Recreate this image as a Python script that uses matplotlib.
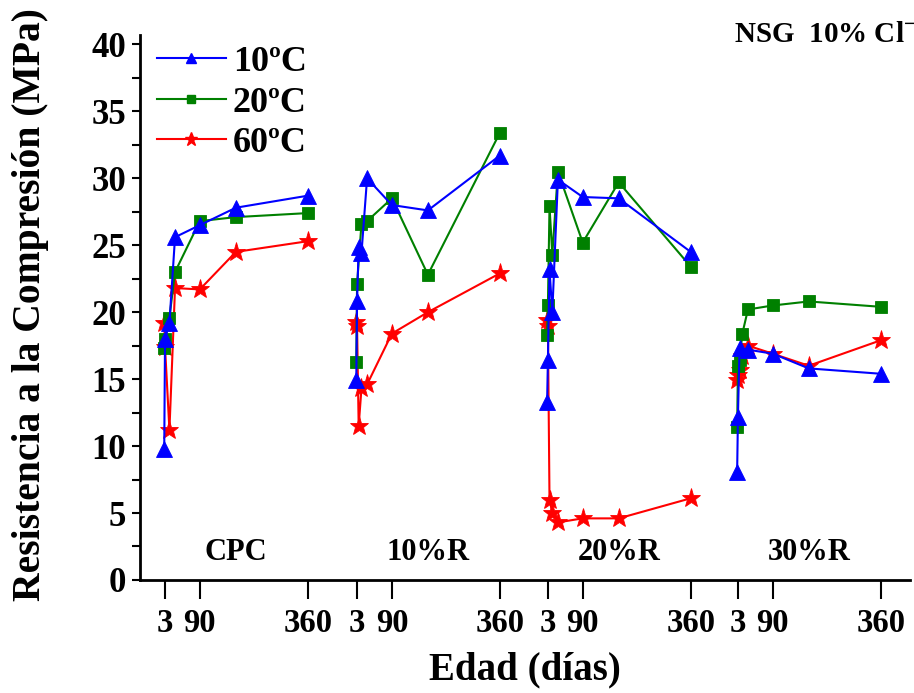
import matplotlib
matplotlib.use("Agg")
import matplotlib.pyplot as plt
from matplotlib.lines import Line2D

plt.rcParams['font.family'] = ['Liberation Serif', 'DejaVu Serif']
plt.rcParams['font.weight'] = 'bold'
plt.rcParams['mathtext.fontset'] = 'custom'
plt.rcParams['mathtext.rm'] = 'Liberation Serif:bold'
plt.rcParams['mathtext.bf'] = 'Liberation Serif:bold'

# Mixes and their offsets along the shared age axis (days)
groups = ["CPC", "10%R", "20%R", "30%R"]
group_offset = [0, 480, 957, 1432]
age_ticks = [3, 90, 360]

series = ["10ºC", "20ºC", "60ºC"]
colors = ["#0000ff", "#008000", "#ff0000"]
markers = ["^", "s", "*"]
marker_sizes = [11, 8, 14]

# Compressive strength (MPa) per mix and curing temperature: (ages, values)
cpc_10 = ([1, 3, 14, 28, 90, 180, 360], [9.8, 18.0, 19.2, 25.6, 26.5, 27.8, 28.7])
cpc_20 = ([1, 3, 14, 28, 90, 180, 360], [17.3, 18.0, 19.6, 23.0, 26.8, 27.1, 27.4])
cpc_60 = ([1, 3, 14, 28, 90, 180, 360], [19.2, 17.4, 11.2, 21.8, 21.7, 24.5, 25.3])

r10_10 = ([1, 3, 7, 14, 28, 90, 180, 360], [14.9, 20.8, 24.9, 24.4, 30.0, 28.0, 27.6, 31.7])
r10_20 = ([1, 3, 14, 28, 90, 180, 360], [16.3, 22.1, 26.6, 26.8, 28.5, 22.8, 33.4])
r10_60 = ([1, 3, 7, 14, 28, 90, 180, 360], [19.3, 19.0, 11.5, 14.3, 14.6, 18.4, 20.0, 22.9])

r20_10 = ([1, 3, 7, 14, 28, 90, 180, 360], [13.3, 16.4, 23.2, 20.0, 29.9, 28.6, 28.5, 24.5])
r20_20 = ([1, 3, 7, 14, 28, 90, 180, 360], [18.3, 20.5, 27.9, 24.3, 30.5, 25.2, 29.7, 23.4])
r20_60 = ([1, 3, 7, 14, 28, 90, 180, 360], [19.4, 19.0, 6.0, 5.0, 4.3, 4.6, 4.6, 6.1])

r30_10 = ([1, 3, 7, 28, 90, 180, 360], [8.1, 12.2, 17.3, 17.2, 16.9, 15.8, 15.4])
r30_20 = ([1, 3, 7, 14, 28, 90, 180, 360], [11.4, 16.0, 16.4, 18.4, 20.2, 20.5, 20.8, 20.4])
r30_60 = ([1, 3, 7, 14, 28, 90, 180, 360], [14.9, 15.3, 15.7, 16.7, 17.5, 16.9, 16.0, 17.9])

data = [
    [cpc_10, cpc_20, cpc_60],
    [r10_10, r10_20, r10_60],
    [r20_10, r20_20, r20_60],
    [r30_10, r30_20, r30_60],
]

fig = plt.figure(figsize=(9.14, 6.93), dpi=100)
ax = fig.add_axes([0.1532, 0.1631, 0.8424, 0.7864])

for g, off in enumerate(group_offset):
    for s in range(3):
        ages, vals = data[g][s]
        ax.plot([a + off for a in ages], vals, color=colors[s], marker=markers[s],
                markersize=marker_sizes[s], linewidth=1.5, markeredgewidth=0.6,
                markeredgecolor=colors[s], zorder=3 - s * 0.1)

ax.set_xlim(-59.5, 1865)
ax.set_ylim(0, 40.7)

xt = [a + off for off in group_offset for a in age_ticks]
ax.set_xticks(xt)
ax.set_xticklabels([str(a) for _ in group_offset for a in age_ticks])
ax.set_yticks(range(0, 41, 5))
ax.set_yticks([2.5 + 5 * i for i in range(8)], minor=True)

ax.spines['top'].set_visible(False)
ax.spines['right'].set_visible(False)
ax.spines['left'].set_linewidth(2)
ax.spines['bottom'].set_linewidth(2)
ax.tick_params(axis='y', which='both', direction='out', length=6, width=1.5,
               labelsize=25, pad=4)
ax.tick_params(axis='x', which='major', direction='out', length=14, width=1.5,
               labelsize=23.5, pad=6)

for lab in ax.get_xticklabels() + ax.get_yticklabels():
    lab.set_fontweight('bold')

ax.set_ylabel("Resistencia a la Compresión (MPa)", fontsize=28.5, fontweight='bold')
ax.yaxis.set_label_coords(-0.118, 0.505)
ax.set_xlabel("Edad (días)", fontsize=28, fontweight='bold', labelpad=9)

for name, off in zip(groups, group_offset):
    ax.text(off + 180, 1.0, name, ha='center', va='bottom', fontsize=22, fontweight='bold')

handles = [Line2D([0], [0], color=c, marker=m, markersize=ms * 0.7, linewidth=1.5)
           for c, m, ms in zip(colors, markers, marker_sizes)]
leg = ax.legend(handles, series, loc='upper left', bbox_to_anchor=(-0.006, 1.02),
                frameon=False, fontsize=26, handlelength=1.9, handletextpad=0.2,
                labelspacing=0.2, borderaxespad=0.2)
for t in leg.get_texts():
    t.set_fontweight('bold')

fig.text(0.803, 0.95, "NSG  10% Cl$^{-}$", fontsize=21, fontweight='bold',
         ha='left', va='center')

fig.savefig("out.png", dpi=100)
